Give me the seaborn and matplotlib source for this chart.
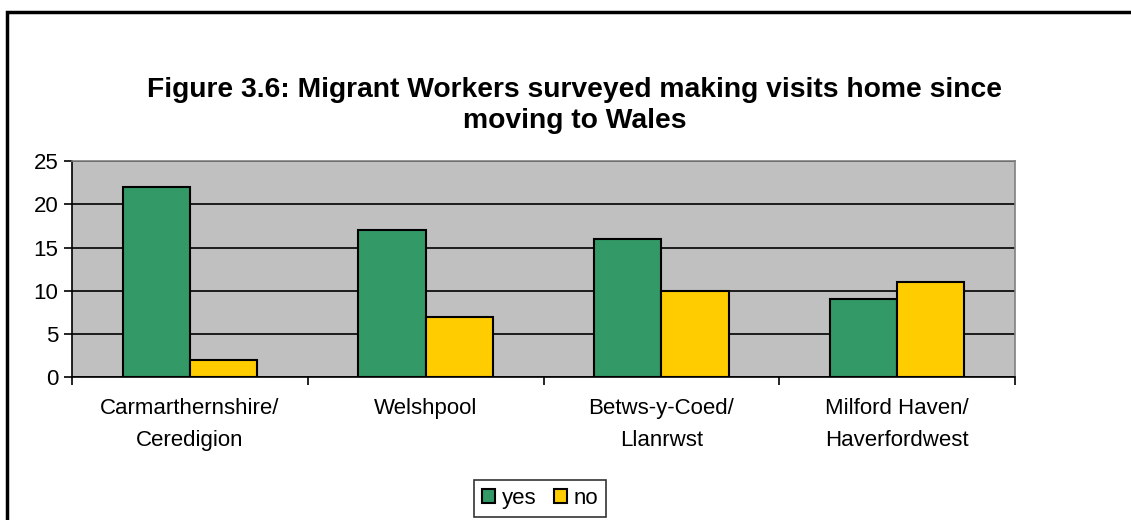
import matplotlib
matplotlib.use("Agg")
import matplotlib.pyplot as plt
import seaborn as sns
import pandas as pd
from matplotlib.patches import Rectangle

# Survey results by area
areas = ["Carmarthernshire/\nCeredigion", "Welshpool", "Betws-y-Coed/\nLlanrwst", "Milford Haven/\nHaverfordwest"]
yes_counts = [22, 17, 16, 9]
no_counts = [2, 7, 10, 11]
series_names = ["yes", "no"]
y_ticks = [0, 5, 10, 15, 20, 25]

df = pd.DataFrame({
    "area": areas * 2,
    "answer": [series_names[0]] * len(areas) + [series_names[1]] * len(areas),
    "count": yes_counts + no_counts,
})

sns.set_style("white")
plt.rcParams["font.family"] = ["Liberation Sans", "DejaVu Sans"]
plt.rcParams["text.color"] = "black"
plt.rcParams["xtick.color"] = "black"
plt.rcParams["ytick.color"] = "black"

fig = plt.figure(figsize=(11.31, 5.2), dpi=100)
ax = fig.add_axes([0.0637, 0.275, 0.8337, 0.415])
ax.set_facecolor("#C0C0C0")

sns.barplot(data=df, x="area", y="count", hue="answer", order=areas,
            hue_order=series_names, palette=["#339966", "#FFCC00"],
            width=0.57, gap=0, edgecolor="black", linewidth=1.5,
            saturation=1, ax=ax, legend=True, zorder=3)

ax.set_xlim(-0.5, len(areas) - 0.5)
ax.set_ylim(0, 25)
ax.set_yticks(y_ticks)
ax.set_yticklabels([str(t) for t in y_ticks], fontsize=16)
ax.yaxis.grid(True, color="black", linewidth=1.2, zorder=1)
ax.set_axisbelow(True)
ax.set_xlabel("")
ax.set_ylabel("")

# Category labels centred, tick marks between categories
ax.set_xticks(range(len(areas)))
ax.set_xticklabels(areas, fontsize=16, linespacing=1.68)
ax.tick_params(axis="x", length=0, pad=15)
ax.set_xticks([i - 0.5 for i in range(len(areas) + 1)], minor=True)
ax.tick_params(axis="x", which="minor", length=6, width=1.2, color="black", direction="out", bottom=True)
ax.tick_params(axis="y", length=6, width=1.2, color="black", direction="out", left=True, pad=4)

for side in ["left", "bottom"]:
    ax.spines[side].set_color("black")
    ax.spines[side].set_linewidth(1.2)
for side in ["top", "right"]:
    ax.spines[side].set_color("#808080")
    ax.spines[side].set_linewidth(1.2)

fig.text(0.508, 0.797, "Figure 3.6: Migrant Workers surveyed making visits home since\nmoving to Wales",
         ha="center", va="center", fontsize=20.3, fontweight="bold", linespacing=1.22)

handles, labels = ax.get_legend_handles_labels()
ax.get_legend().remove()
leg = fig.legend(handles, labels, loc="upper center", bbox_to_anchor=(0.4775, 0.076),
                 ncol=2, frameon=True, fancybox=False, fontsize=16,
                 handlelength=0.6, handleheight=0.6, handletextpad=0.3,
                 columnspacing=0.8, borderpad=0.35, borderaxespad=0)
leg.get_frame().set_edgecolor("black")
leg.get_frame().set_linewidth(1.2)

# Outer chart border
fig.patches.append(Rectangle((0.006, -0.05), 1.1, 1.026, transform=fig.transFigure,
                             fill=False, edgecolor="black", linewidth=2.5))

fig.savefig("out.png", dpi=100)
